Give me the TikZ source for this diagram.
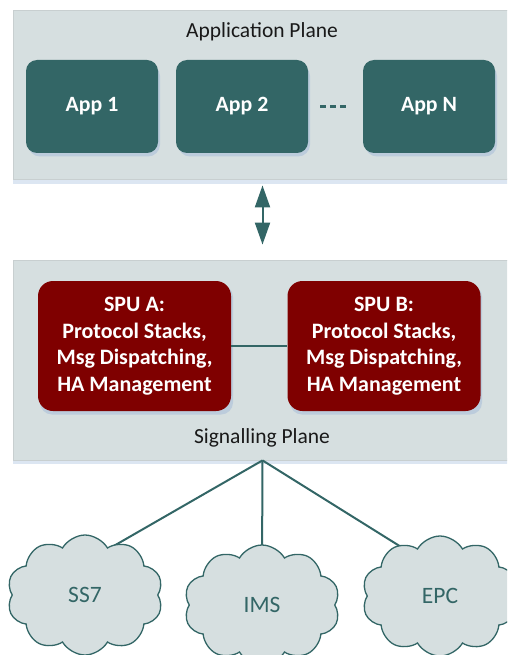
\documentclass[tikz,border=0pt]{standalone}
\usepackage{fontspec}
\setmainfont{Carlito}
\usetikzlibrary{arrows.meta,shapes.symbols}
\definecolor{planefill}{HTML}{D6DFE0}
\definecolor{planeline}{HTML}{C8CFD0}
\definecolor{planeshadow}{HTML}{DCE6F2}
\definecolor{teal}{HTML}{336666}
\definecolor{spured}{HTML}{7F0000}
\definecolor{boxshadow}{HTML}{BCCCDC}
\tikzset{
  plane/.style={draw=planeline, line width=0.8pt, fill=planefill, minimum width=499pt, inner sep=0pt},
  appbox/.style={fill=teal, rounded corners=11pt, minimum width=132pt, minimum height=93pt,
    text=white, font=\fontsize{21.8}{24}\selectfont\bfseries, inner sep=0pt},
  spubox/.style={fill=spured, rounded corners=15pt, minimum width=193pt, minimum height=130pt,
    text=white, font=\fontsize{22}{26.7}\selectfont\bfseries, align=center, inner sep=0pt},
  planelabel/.style={font=\fontsize{21.5}{24}\selectfont, text=black!90, inner sep=0pt},
  netcloud/.style={cloud, cloud puffs=10, cloud puff arc=120, aspect=1.3, draw=teal, line width=1.3pt,
    fill=planefill, minimum width=156pt, minimum height=120pt, inner sep=0pt,
    font=\fontsize{23.5}{26}\selectfont, text=teal},
  link/.style={draw=teal, line width=2pt},
  boxshade/.style={fill=boxshadow, rounded corners=12pt}
}
\begin{document}
\begin{tikzpicture}[x=1pt,y=-1pt]
\useasboundingbox (0,0) rectangle (507,655);
\clip (0,0) rectangle (507,655);
% planes
\fill[planeshadow] (13,178) rectangle (512,184);
\node[plane, minimum height=169pt] (appplane) at (262.5,94.5) {};
\fill[planeshadow] (13,458) rectangle (512,464);
\node[plane, minimum height=200pt] (sigplane) at (262.5,360) {};
\node[planelabel] (applabel) at (262,32) {Application Plane};
\node[planelabel] (siglabel) at (262,438) {Signalling Plane};
% app boxes with shadows
\fill[boxshade] (28,64) rectangle (160,156.5);
\fill[boxshade] (178,64) rectangle (310,156.5);
\fill[boxshade] (365,64) rectangle (497,156.5);
\node[appbox] (app1) at (92,106.5) {App 1};
\node[appbox] (app2) at (242,106.5) {App 2};
\node[appbox] (appn) at (429,106.5) {App N};
\draw[teal, line width=3pt, dash pattern=on 6pt off 4pt] (320,107) -- (346,107);
% SPU boxes
\fill[boxshade] (40,285) rectangle (233,414.5);
\fill[boxshade] (290,285) rectangle (482,414.5);
\node[spubox] (spua) at (134.5,346) {SPU A:\\Protocol Stacks,\\Msg Dispatching,\\HA Management};
\node[spubox] (spub) at (384,346) {SPU B:\\Protocol Stacks,\\Msg Dispatching,\\HA Management};
\draw[link] (spua) -- (spub);
% arrow between planes
\draw[teal, line width=2pt, {Triangle[width=15pt,length=22pt]}-{Triangle[width=15pt,length=22pt]},
  shorten <=6pt, shorten >=15pt] (appplane.south) -- (sigplane.north);
% links to networks
\coordinate (ss7end) at (105,551);
\coordinate (imsend) at (262,570);
\coordinate (epcend) at (430,565);
\draw[link] (sigplane.south) -- (ss7end);
\draw[link] (sigplane.south) -- (imsend);
\draw[link] (sigplane.south) -- (epcend);
\node[netcloud] (ss7) at (85,595) {SS7};
\node[netcloud] (ims) at (262,605) {IMS};
\node[netcloud] (epc) at (440,596) {EPC};
\end{tikzpicture}
\end{document}
